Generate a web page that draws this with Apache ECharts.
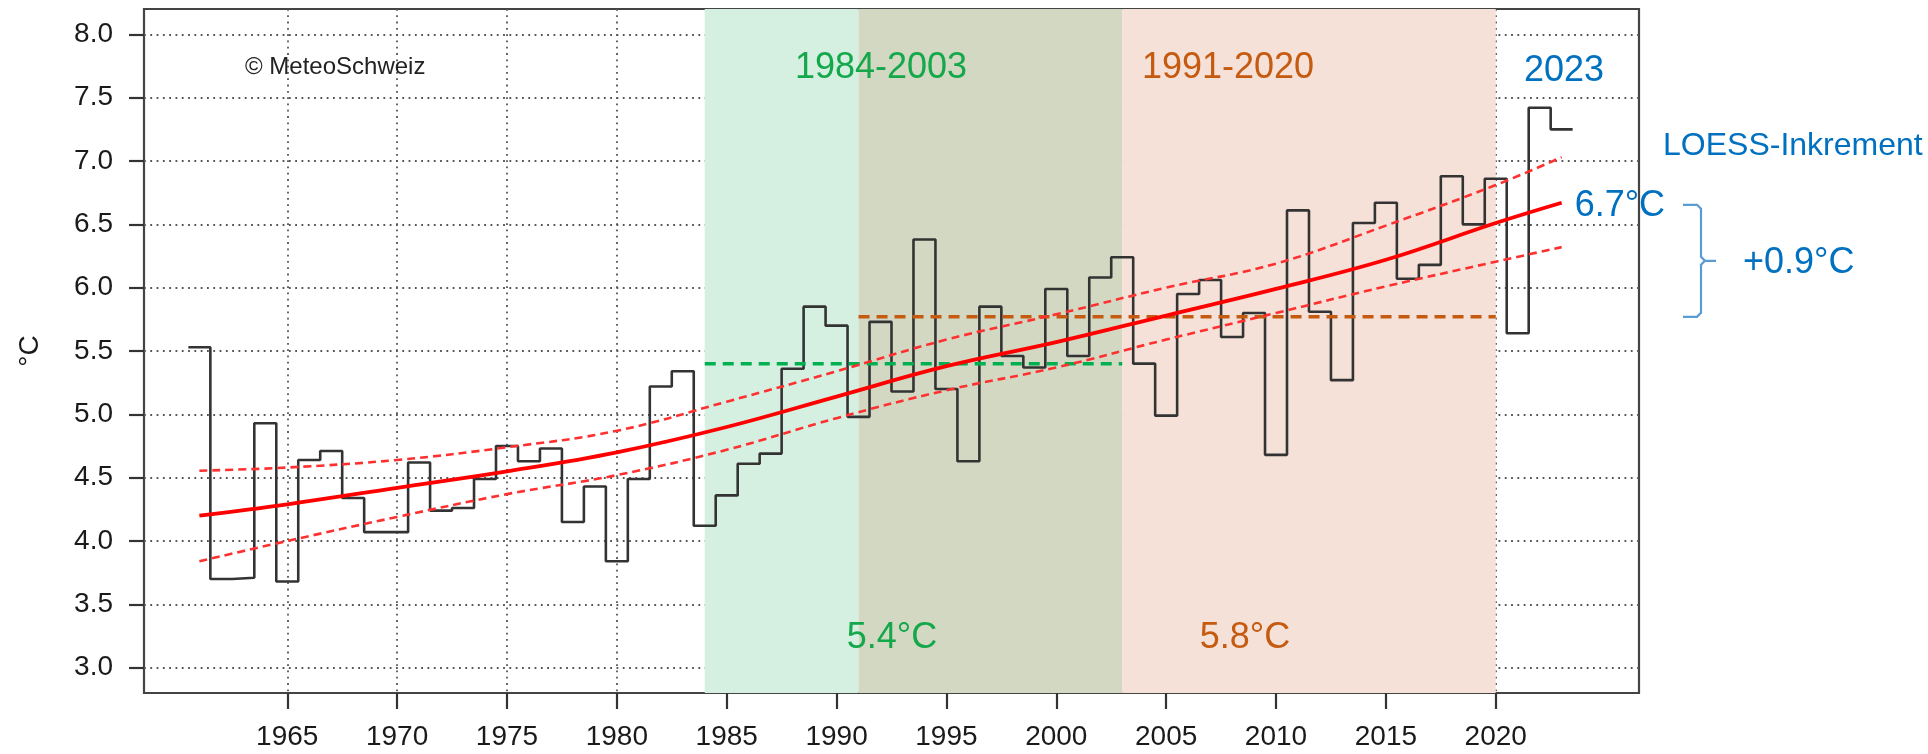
<!DOCTYPE html>
<html>
<head>
<meta charset="utf-8">
<script src="https://cdn.jsdelivr.net/npm/echarts@6/dist/echarts.min.js"></script>
<style>
  html, body { margin: 0; padding: 0; background: #ffffff; }
  #chart { width: 1928px; height: 754px; }
</style>
</head>
<body>
<div id="chart"></div>
<script>
// Annual mean temperature (°C), one value per year
const years = [
  1961, 1962, 1963, 1964, 1965, 1966, 1967, 1968, 1969, 1970,
  1971, 1972, 1973, 1974, 1975, 1976, 1977, 1978, 1979, 1980,
  1981, 1982, 1983, 1984, 1985, 1986, 1987, 1988, 1989, 1990,
  1991, 1992, 1993, 1994, 1995, 1996, 1997, 1998, 1999, 2000,
  2001, 2002, 2003, 2004, 2005, 2006, 2007, 2008, 2009, 2010,
  2011, 2012, 2013, 2014, 2015, 2016, 2017, 2018, 2019, 2020,
  2021, 2022, 2023
];
const tempMean = [
  5.53, 3.70, 3.71, 4.93, 3.68, 4.64, 4.71, 4.34, 4.07, 4.07,
  4.62, 4.24, 4.26, 4.49, 4.75, 4.63, 4.73, 4.15, 4.43, 3.84,
  4.49, 5.22, 5.34, 4.12, 4.36, 4.61, 4.69, 5.36, 5.85, 5.70,
  4.98, 5.73, 5.18, 6.38, 5.20, 4.63, 5.85, 5.46, 5.37, 5.99,
  5.46, 6.08, 6.24, 5.40, 4.99, 5.95, 6.06, 5.61, 5.80, 4.68,
  6.61, 5.81, 5.27, 6.51, 6.67, 6.07, 6.18, 6.88, 6.50, 6.86,
  5.64, 7.42, 7.25
];

// LOESS trend with its confidence band
const loessYears = [1961, 1965, 1970, 1975, 1980, 1985, 1990, 1995, 2000, 2005, 2010, 2015, 2020, 2023];
const loessMid   = [4.20, 4.29, 4.42, 4.55, 4.70, 4.90, 5.14, 5.38, 5.57, 5.78, 5.99, 6.22, 6.51, 6.67];
const loessUpper = [4.555, 4.58, 4.64, 4.74, 4.87, 5.10, 5.34, 5.59, 5.79, 6.00, 6.19, 6.49, 6.81, 7.03];
const loessLower = [3.84, 4.00, 4.19, 4.37, 4.52, 4.72, 4.97, 5.19, 5.37, 5.59, 5.80, 6.01, 6.205, 6.32];

// Reference periods and their means
const periodStart = [1984, 1991];
const periodEnd   = [2003, 2020];
const periodMean  = [5.40, 5.77];
const periodColor = ['#00b050', '#c55a11'];
const periodTextColor = ['#14a84b', '#c55a11'];

// Axis ticks
const xTicks = [1965, 1970, 1975, 1980, 1985, 1990, 1995, 2000, 2005, 2010, 2015, 2020];
const yTicks = [3.0, 3.5, 4.0, 4.5, 5.0, 5.5, 6.0, 6.5, 7.0, 7.5, 8.0];
const X_MIN = 1958.48, X_MAX = 2026.52;
const Y_MIN = 2.8, Y_MAX = 8.2;

const FONT = '"Liberation Sans", Arial, Helvetica, sans-serif';
const BLUE = '#0070c0';
const GRID_LINE = { color: '#555555', width: 1.8, type: [1.8, 4.5] };

const chart = echarts.init(document.getElementById('chart'), null, { renderer: 'canvas' });

// Each year's value is a horizontal step from year-0.5 to year+0.5
const stepData = years.map((y, i) => [y - 0.5, tempMean[i]]);
stepData.push([years[years.length - 1] + 0.5, tempMean[tempMean.length - 1]]);

// Shaded periods: green only, overlap, orange only
const bounds = [periodStart[0], periodStart[1], periodEnd[0], periodEnd[1]];
const shadeColors = ['#d5efe0', '#d3d8c3', '#f5e1d7'];
const areas = [];
for (let i = 0; i < 3; i++) {
  areas.push([{ xAxis: bounds[i], itemStyle: { color: shadeColors[i] } }, { xAxis: bounds[i + 1] }]);
}

const toPairs = (xs, ys) => xs.map((x, i) => [x, ys[i]]);

const series = [
  {
    name: 'shade', type: 'line', data: [], z: 0, silent: true,
    markArea: { silent: true, label: { show: false }, data: areas }
  },
  {
    name: 'Jahresmittel', type: 'line', data: stepData, step: 'end',
    symbol: 'none', z: 3,
    lineStyle: { color: '#333333', width: 2.6 }
  }
];
periodStart.forEach((s, i) => {
  series.push({
    name: 'Mittel ' + s + '-' + periodEnd[i], type: 'line',
    data: [[s, periodMean[i]], [periodEnd[i], periodMean[i]]],
    symbol: 'none', z: 4,
    lineStyle: { color: periodColor[i], width: 3.5, type: [11, 7] }
  });
});
[loessUpper, loessLower].forEach((band, k) => {
  series.push({
    name: k === 0 ? 'LOESS oben' : 'LOESS unten', type: 'line',
    data: toPairs(loessYears, band), smooth: 0.4,
    symbol: 'none', z: 5,
    lineStyle: { color: '#ff3030', width: 2.6, type: [8, 5] }
  });
});
series.push({
  name: 'LOESS', type: 'line', data: toPairs(loessYears, loessMid), smooth: 0.4,
  symbol: 'none', z: 6,
  lineStyle: { color: '#ff0000', width: 3.8 }
});

chart.setOption({
  animation: false,
  backgroundColor: '#ffffff',
  grid: {
    left: 144, top: 9, right: 289, bottom: 61,
    show: true, borderColor: '#444444', borderWidth: 2.2,
    backgroundColor: 'transparent', z: 1
  },
  xAxis: {
    type: 'value', min: X_MIN, max: X_MAX, z: 1,
    axisLine: { show: false },
    axisTick: { show: true, customValues: xTicks, length: 16, lineStyle: { color: '#333', width: 2.2 } },
    axisLabel: {
      customValues: xTicks, fontSize: 28, fontFamily: FONT, color: '#1a1a1a', margin: 30,
      formatter: v => String(Math.round(v))
    },
    splitLine: { show: true, lineStyle: GRID_LINE }
  },
  yAxis: {
    type: 'value', min: Y_MIN, max: Y_MAX, z: 1,
    name: '°C', nameLocation: 'middle', nameRotate: 90, nameGap: 100,
    nameTextStyle: { fontSize: 28, fontFamily: FONT, color: '#1a1a1a' },
    axisLine: { show: false },
    axisTick: { show: true, customValues: yTicks, length: 15, lineStyle: { color: '#333', width: 2.2 } },
    axisLabel: {
      customValues: yTicks, fontSize: 28, fontFamily: FONT, color: '#1a1a1a', margin: 31,
      formatter: v => Number(v).toFixed(1)
    },
    splitLine: { show: true, lineStyle: GRID_LINE }
  },
  series: series
});

// Annotations
const px = (x, y) => chart.convertToPixel({ gridIndex: 0 }, [x, y]);
const lastYear = loessYears[loessYears.length - 1];
const loessEnd = loessMid[loessMid.length - 1];
const endPt = px(lastYear, loessEnd);
const normPt = px(lastYear, periodMean[1]);
const increment = loessEnd - periodMean[1];

const txt = (text, x, y, size, color, align) => ({
  type: 'text', x: x, y: y, z: 10, silent: true,
  style: {
    text: text, fill: color, font: size + 'px ' + FONT,
    textAlign: align || 'center', textVerticalAlign: 'middle'
  }
});

// Curly brace spanning from the LOESS end value down to the 1991-2020 mean
const braceX = 1701, braceL = 1683, braceTip = 1716;
const yT = endPt[1] + 2, yB = normPt[1], yM = (yT + yB) / 2;
const braceStyle = { stroke: '#5b9bd5', lineWidth: 2.2, fill: null };
const braceUpper = [[braceL, yT], [braceX - 4, yT], [braceX, yT + 4], [braceX, yM - 4], [braceX + 4, yM], [braceTip, yM]];
const braceLower = [[braceX + 4, yM], [braceX, yM + 4], [braceX, yB - 4], [braceX - 4, yB], [braceL, yB]];

chart.setOption({
  graphic: [
    txt('© MeteoSchweiz', 245, 67, 24, '#222', 'left'),
    txt(periodStart[0] + '-' + periodEnd[0], 881, 68, 36, periodTextColor[0]),
    txt(periodStart[1] + '-' + periodEnd[1], 1228, 68, 36, periodTextColor[1]),
    txt(String(years[years.length - 1]), 1564, 71, 36, BLUE),
    txt('LOESS-Inkrement', 1663, 146, 32, BLUE, 'left'),
    txt(loessEnd.toFixed(1) + '°C', endPt[0] + 13, endPt[1] + 3, 36, BLUE, 'left'),
    txt('+' + increment.toFixed(1) + '°C', 1743, yM + 2, 36, BLUE, 'left'),
    txt(periodMean[0].toFixed(1) + '°C', 892, 638, 36, periodTextColor[0]),
    txt(periodMean[1].toFixed(1) + '°C', 1245, 638, 36, periodTextColor[1]),
    { type: 'polyline', z: 10, silent: true, shape: { points: braceUpper }, style: braceStyle },
    { type: 'polyline', z: 10, silent: true, shape: { points: braceLower }, style: braceStyle }
  ]
});
</script>
</body>
</html>
